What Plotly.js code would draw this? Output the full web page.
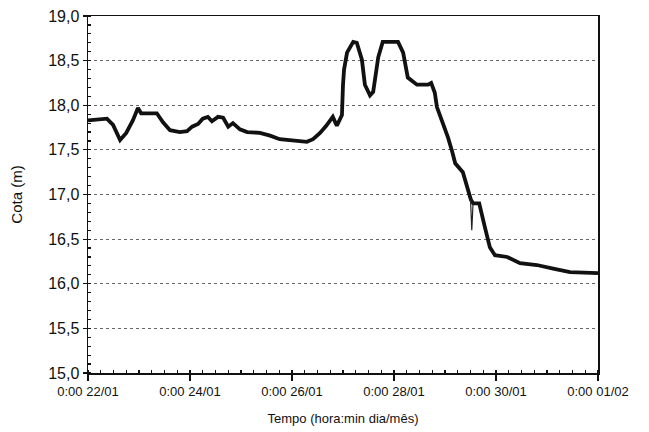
<!DOCTYPE html>
<html>
<head>
<meta charset="utf-8">
<script src="https://cdn.plot.ly/plotly-3.0.1.min.js"></script>
<style>html,body{margin:0;padding:0;background:#fff;}#chart{width:649px;height:432px;}</style>
</head>
<body>
<div id="chart"></div>
<script>
// Elapsed hours since 0:00 22/01 and water level (Cota, m)
const startDate = Date.UTC(2004, 0, 22);
const hoursFromStart = [0, 8.9, 11.8, 15.1, 18, 21.1, 23.5, 25, 32.4, 35.3, 38.6, 43.2, 46.6, 49, 51.8, 54,
  56.4, 58.3, 61.2, 63.6, 66, 68.2, 71.5, 74.9, 80.9, 85.7, 90.2, 96.5, 103, 105.9, 109.2, 112.1, 115.2,
  117.1, 119.5, 120, 120.5, 121.9, 124.8, 126.5, 128.9, 130.3, 132.7, 134.2, 136.6, 138.7, 145.9, 148.3,
  150.5, 154.8, 160.1, 161.5, 163.2, 164.2, 167, 169.4, 171.4, 172.8, 176.4, 178.8, 180.2, 181.3, 184.1,
  186.7, 189.1, 191.5, 197.3, 203.3, 211.2, 218.9, 226.8, 240];
const cota = [17.83, 17.85, 17.78, 17.61, 17.69, 17.83, 17.97, 17.91, 17.91, 17.81, 17.72, 17.70, 17.71,
  17.76, 17.79, 17.85, 17.87, 17.82, 17.87, 17.86, 17.76, 17.80, 17.73, 17.70, 17.69, 17.66, 17.62, 17.61,
  17.59, 17.62, 17.69, 17.77, 17.87, 17.77, 17.89, 18.23, 18.40, 18.59, 18.71, 18.70, 18.51, 18.23, 18.11,
  18.15, 18.54, 18.71, 18.71, 18.59, 18.31, 18.23, 18.23, 18.25, 18.14, 17.98, 17.80, 17.64, 17.48, 17.35,
  17.25, 17.07, 16.94, 16.90, 16.90, 16.64, 16.41, 16.32, 16.30, 16.23, 16.21, 16.17, 16.13, 16.12];
// thin downward spike near 29/01
const spikeHours = [180.0, 180.6, 181.2];
const spikeCota = [16.95, 16.60, 16.90];

function toDate(h) {
  return new Date(startDate + h * 3600e3).toISOString().slice(0, 19).replace('T', ' ');
}

const traces = [
  {x: hoursFromStart.map(toDate), y: cota, type: 'scatter', mode: 'lines',
   line: {color: '#111', width: 3.8}, hoverinfo: 'skip'},
  {x: spikeHours.map(toDate), y: spikeCota, type: 'scatter', mode: 'lines',
   line: {color: '#222', width: 1.2}, hoverinfo: 'skip'}
];

const layout = {
  width: 649, height: 432,
  margin: {l: 88, r: 51, t: 16, b: 59},
  paper_bgcolor: '#fff', plot_bgcolor: '#fff',
  showlegend: false,
  separators: ',.',
  font: {family: 'Liberation Sans, Arial, sans-serif', color: '#111'},
  xaxis: {
    type: 'date',
    range: [toDate(0), toDate(240)],
    tick0: toDate(0), dtick: 2 * 86400000,
    tickformat: '%-H:%M %d/%m',
    ticks: 'outside', ticklen: 6, tickcolor: '#111', tickwidth: 1.2,
    minor: {dtick: 6 * 3600000, ticks: 'inside', ticklen: 3, tickcolor: '#111', showgrid: false},
    showgrid: false, zeroline: false,
    showline: true, linecolor: '#111', linewidth: 1.5, mirror: true,
    tickfont: {size: 13, color: '#111'},
    title: {text: 'Tempo (hora:min dia/mês)', font: {size: 13, color: '#111'}}
  },
  yaxis: {
    range: [15, 19], dtick: 0.5, tick0: 15, tickformat: '.1f',
    ticks: 'outside', ticklen: 4, tickcolor: '#111', tickwidth: 1.2,
    minor: {dtick: 0.1, ticks: 'inside', ticklen: 3, tickcolor: '#111', showgrid: false},
    showgrid: true, gridcolor: '#666', gridwidth: 1, griddash: 'dot',
    zeroline: false,
    showline: true, linecolor: '#111', linewidth: 1.5, mirror: true,
    tickfont: {size: 16, color: '#111'},
    title: {text: 'Cota (m)', font: {size: 15, color: '#111'}, standoff: 22}
  }
};

Plotly.newPlot('chart', traces, layout, {staticPlot: true, displayModeBar: false});
</script>
</body>
</html>
